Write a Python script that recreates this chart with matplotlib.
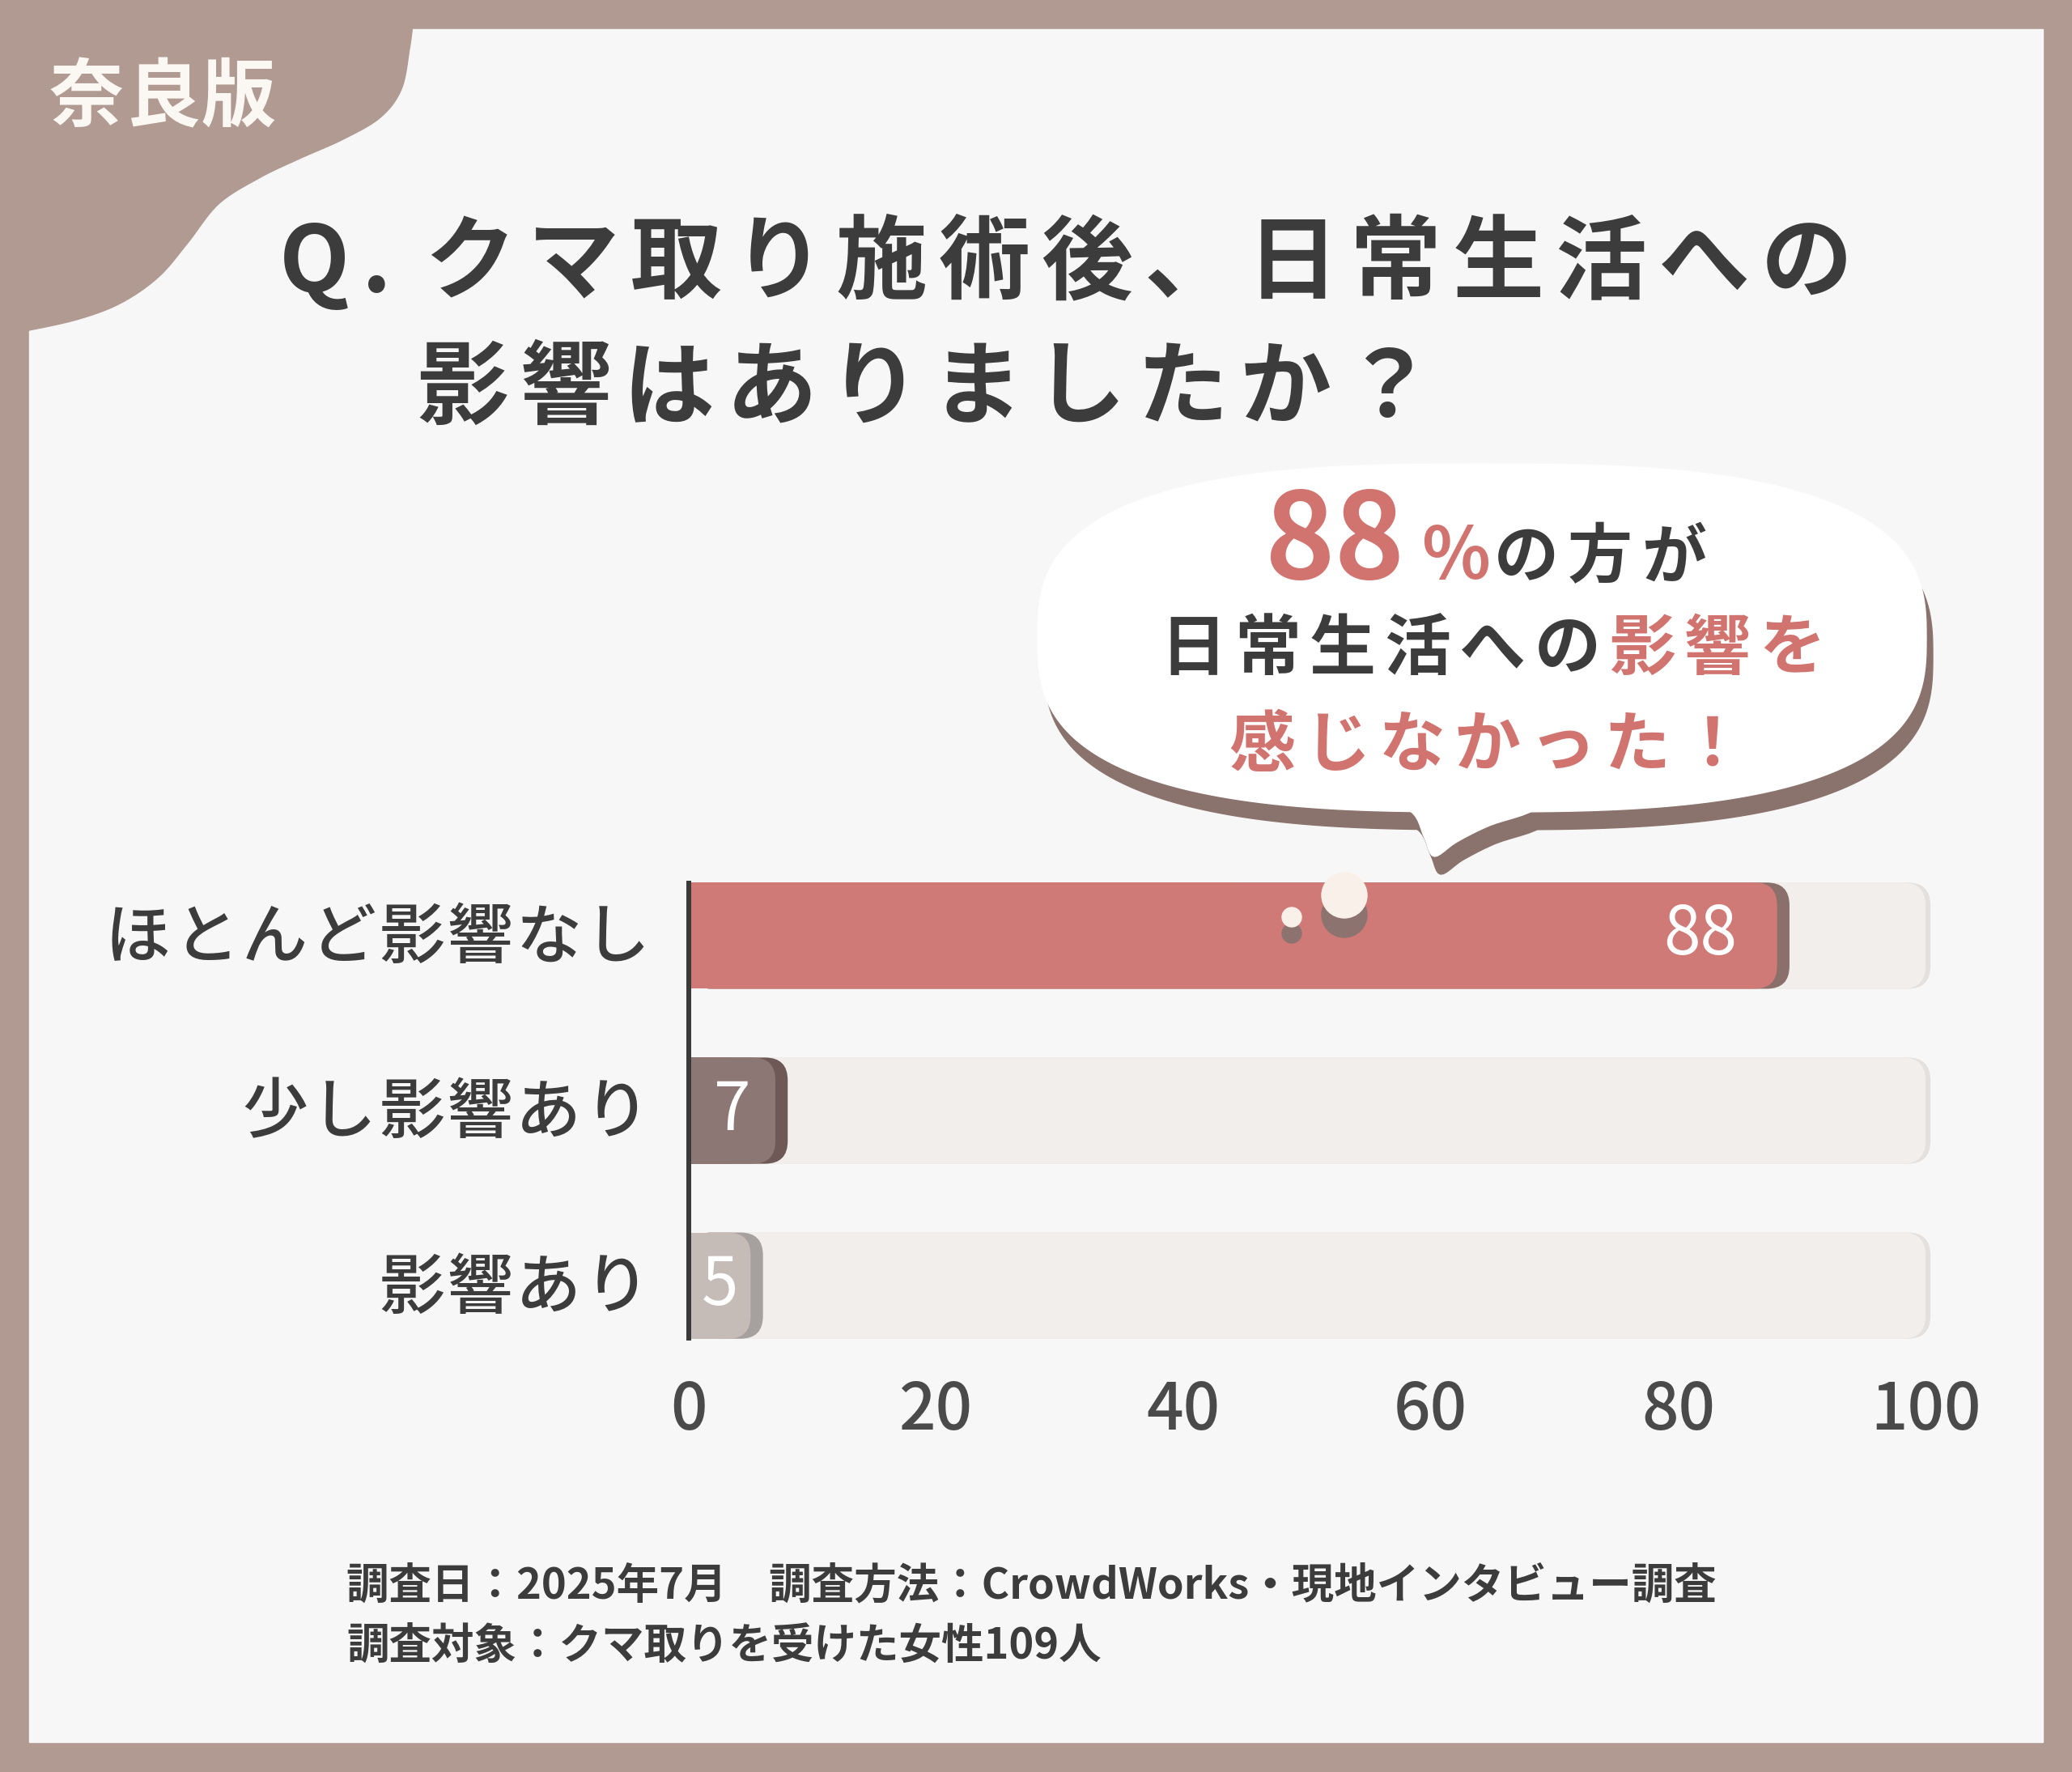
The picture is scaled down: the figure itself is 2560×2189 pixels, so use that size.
import numpy as np
import matplotlib
matplotlib.use('Agg')
import matplotlib.pyplot as plt
from matplotlib.patches import FancyBboxPatch, Rectangle, Polygon, Circle

plt.rcParams['font.family'] = ['Noto Sans CJK JP', 'DejaVu Sans']

# データ
categories = ['ほとんど影響なし', '少し影響あり', '影響あり']
values = [88, 7, 5]
xticks = [0, 20, 40, 60, 80, 100]

bar_colors = ['#CF7A76', '#8D7774', '#C5BBB7']
shadow_colors = ['#8A6F6A', '#6E5957', '#A6A09E']

title_1 = 'クマ取り施術後、日常生活への'
title_2 = '影響はありましたか？'
note_1 = '調査日：2025年7月　調査方法：CrowdWorks・現地インタビュー調査'
note_2 = '調査対象：クマ取りを受けた女性109人'

W, H = 2560, 2189
PT = 0.72  # px -> pt
DARK = '#3C3C3C'
SALMON = '#D1746F'
FRAME = '#B09A91'

fig = plt.figure(figsize=(W / 100, H / 100), dpi=100)
fig.patch.set_facecolor(FRAME)

# 背景レイヤー（ピクセル座標）
bg = fig.add_axes([0, 0, 1, 1])
bg.set_xlim(0, W)
bg.set_ylim(H, 0)
bg.axis('off')
bg.set_zorder(0)

bg.add_patch(Rectangle((36, 36), 2488, 2116, color='#F7F7F7', zorder=0))


def smooth(pts, k=12):
    # Catmull-Rom で角を丸める
    p = np.asarray(pts, float)
    p = np.vstack([p[0], p, p[-1]])
    out = []
    for i in range(1, len(p) - 2):
        p0, p1, p2, p3 = p[i - 1], p[i], p[i + 1], p[i + 2]
        for s in np.linspace(0, 1, k, endpoint=False):
            out.append(0.5 * ((2 * p1) + (-p0 + p2) * s + (2 * p0 - 5 * p1 + 4 * p2 - p3) * s ** 2
                              + (-p0 + 3 * p1 - 3 * p2 + p3) * s ** 3))
    out.append(p[-2])
    return np.array(out)


edge = smooth([(510, 30), (506, 60), (496, 110), (470, 145), (424, 172), (370, 196),
               (320, 220), (270, 252), (232, 300), (196, 342), (150, 374),
               (98, 394), (36, 408), (20, 410)])
blob = np.vstack([[(0, 0), (512, 0)], edge, [(0, 412)]])
bg.add_patch(Polygon(blob, closed=True, color=FRAME, zorder=1))


def spaced(ax, s, c0, y, adv, size_px, color, weight='bold', z=5):
    for i, ch in enumerate(s):
        ax.text(c0 + i * adv, y, ch, ha='center', va='center',
                fontsize=size_px * PT, color=color, fontweight=weight, zorder=z)


spaced(bg, '奈良版', 107, 122, 94, 92, '#FBF7F3')

# タイトル
bg.text(388, 327, 'Q', ha='center', va='center', fontsize=113 * PT,
        color=DARK, fontweight='bold')
bg.text(465, 327, '.', ha='center', va='center', fontsize=113 * PT,
        color=DARK, fontweight='bold')
spaced(bg, title_1, 581, 327, 127, 113, DARK)
spaced(bg, title_2, 572, 482, 127, 113, DARK)

# 吹き出し
t = np.linspace(0, 2 * np.pi, 400)
n = 2.8
cx, cy, a, b = 1831, 788, 549, 215
bx = cx + a * np.sign(np.cos(t)) * np.abs(np.cos(t)) ** (2 / n)
by = cy + b * np.sign(np.sin(t)) * np.abs(np.sin(t)) ** (2 / n)
bubble = np.column_stack([bx, by])
tail = smooth([(1705, 985), (1745, 1004), (1760, 1035), (1772, 1058),
               (1800, 1040), (1840, 1020), (1895, 1000), (1885, 975)], k=6)
for dx, dy, col, z in [(8, 22, '#8B736D', 2), (0, 0, 'white', 3)]:
    bg.add_patch(Polygon(bubble + [dx, dy], closed=True, color=col, zorder=z))
    bg.add_patch(Polygon(tail + [dx, dy], closed=True, color=col, zorder=z))

bg.text(1562, 715, '88', ha='left', va='baseline', fontsize=147 * PT,
        color=SALMON, fontweight='semibold', zorder=5)
bg.text(1756, 715, '%', ha='left', va='baseline', fontsize=88 * PT,
        color=SALMON, fontweight='semibold', zorder=5)
spaced(bg, 'の方が', 1886, 690, 91, 80, DARK)
spaced(bg, '日常生活への', 1474, 803, 92.5, 82, DARK)
spaced(bg, '影響を', 1474 + 6 * 92.5, 803, 92.5, 82, SALMON)
spaced(bg, '感じなかった！', 1559, 922, 92.7, 82, SALMON)

# 注記
bg.text(428, 1959, note_1, ha='left', va='center', fontsize=52.5 * PT,
        color=DARK, fontweight='bold')
bg.text(428, 2033, note_2, ha='left', va='center', fontsize=52.5 * PT,
        color=DARK, fontweight='bold')

# 棒グラフ
ax = fig.add_axes([851 / W, 1 - 1653 / H, 1528 / W, 562 / H])
ax.set_zorder(1)
ax.patch.set_alpha(0)
ax.set_xlim(0, 100)
ax.set_ylim(2.3, -0.3)
for s in ['top', 'right', 'bottom']:
    ax.spines[s].set_visible(False)
ax.spines['left'].set_color('#3A3A3A')
ax.spines['left'].set_linewidth(6 * PT)
ax.spines['left'].set_zorder(10)
ax.set_yticks([])
ax.set_xticks(xticks)
ax.set_xticklabels([str(v) for v in xticks], fontweight='medium')
ax.tick_params(axis='x', length=0, pad=36, labelsize=80 * PT, labelcolor='#4A4A4A')

asp = (1528 / 100) / (562 / 2.6)
r = 28 / 15.28
bh = 0.607
style = f'round,pad=0,rounding_size={r}'

for i, (cat, v, c, sc) in enumerate(zip(categories, values, bar_colors, shadow_colors)):
    y0 = i - bh / 2
    ax.add_patch(FancyBboxPatch((0, y0), 100.4, bh, boxstyle=style, mutation_aspect=asp,
                                fc='#E3E0DE', ec='none', clip_on=False, zorder=1))
    ax.add_patch(FancyBboxPatch((0, y0), 100, bh, boxstyle=style, mutation_aspect=asp,
                                fc='#F2EEEB', ec='none', clip_on=False, zorder=1.1))
    ax.add_patch(FancyBboxPatch((0, y0), v + 1.0, bh, boxstyle=style, mutation_aspect=asp,
                                fc=sc, ec='none', clip_on=False, zorder=2))
    ax.add_patch(FancyBboxPatch((0, y0), v, bh, boxstyle=style, mutation_aspect=asp,
                                fc=c, ec='none', clip_on=False, zorder=2.1))
    ax.add_patch(Rectangle((0, y0), v / 2, bh, fc=c, ec='none', clip_on=False, zorder=2.2))

    if v > 20:
        ax.text(v - 3.2, i, str(v), ha='right', va='center', color='white',
                fontsize=82 * PT, zorder=3)
    else:
        ax.text(v / 2, i, str(v), ha='center', va='center', color='white',
                fontsize=82 * PT, zorder=3)

    # カテゴリ名（字間あり）
    n_ch = len(cat)
    for k, ch in enumerate(cat):
        off_px = 762 - (n_ch - 1 - k) * 84.5 - 851
        ax.annotate(ch, xy=(0, i), xytext=(off_px * PT, -4 * PT), textcoords='offset points',
                    ha='center', va='center', fontsize=81 * PT, color=DARK,
                    fontweight='medium', annotation_clip=False)

# 装飾の丸
ov = fig.add_axes([0, 0, 1, 1])
ov.set_xlim(0, W)
ov.set_ylim(H, 0)
ov.axis('off')
ov.set_zorder(2)
for (x, y, rr, dy) in [(1596, 1133, 12, 20), (1661, 1106, 28, 24)]:
    ov.add_patch(Circle((x, y + dy), rr, color='#8C7370'))
    ov.add_patch(Circle((x, y), rr, color='#FAF0EA'))

fig.savefig('out.png', dpi=100)
